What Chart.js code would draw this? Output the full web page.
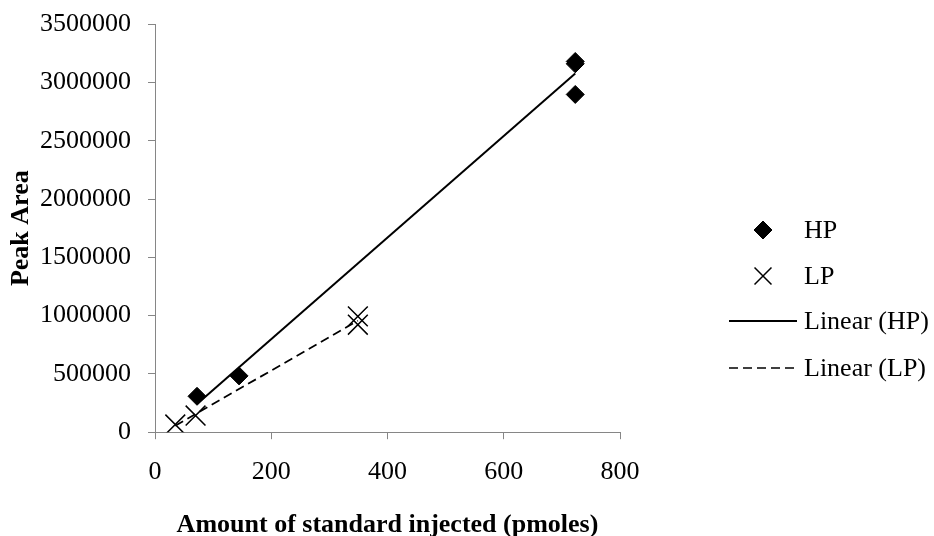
<!DOCTYPE html>
<html>
<head>
<meta charset="utf-8">
<script src="https://cdn.jsdelivr.net/npm/chart.js@4/dist/chart.umd.min.js"></script>
<style>
  html, body { margin: 0; padding: 0; background: #ffffff; }
  #wrap { width: 934px; height: 536px; }
</style>
</head>
<body>
<div id="wrap"><canvas id="c" width="934" height="536"></canvas></div>
<script>
// Calibration standards: amount injected (pmoles) vs. peak area
const hpAmount = [72.3, 144.6, 723, 723, 723];
const hpArea   = [308000, 483000, 3180000, 3160000, 2897000];
const lpAmount = [34.9, 69.8, 349, 349];
const lpArea   = [66000, 143000, 993000, 922000];

const xTicks = [0, 200, 400, 600, 800];
const yTicks = [0, 500000, 1000000, 1500000, 2000000, 2500000, 3000000, 3500000];

const legendLabels = ['HP', 'LP', 'Linear (HP)', 'Linear (LP)'];

const SERIF = '"Liberation Serif", "Times New Roman", serif';
const AXIS_GREY = '#868686';
const TREND_DASH = [9, 5];

function toPoints(xs, ys) {
  return xs.map((x, i) => ({ x: x, y: ys[i] }));
}

// least-squares straight line across the range of a series
function linearFit(xs, ys) {
  const n = xs.length;
  const mx = xs.reduce((a, b) => a + b, 0) / n;
  const my = ys.reduce((a, b) => a + b, 0) / n;
  let sxy = 0, sxx = 0;
  for (let i = 0; i < n; i++) {
    sxy += (xs[i] - mx) * (ys[i] - my);
    sxx += (xs[i] - mx) * (xs[i] - mx);
  }
  const slope = sxy / sxx;
  const icpt = my - slope * mx;
  const x0 = Math.min(...xs), x1 = Math.max(...xs);
  return [{ x: x0, y: icpt + slope * x0 }, { x: x1, y: icpt + slope * x1 }];
}

// legend drawn in the right-hand margin, beside the plot
const sideLegend = {
  id: 'sideLegend',
  afterDraw(chart) {
    const ctx = chart.ctx;
    const area = chart.chartArea;
    const cx = area.right + 143;
    const tx = area.right + 184;
    const rows = [230, 276, 321, 368];
    ctx.save();
    ctx.font = '26px ' + SERIF;
    ctx.textBaseline = 'middle';
    legendLabels.forEach((label, i) => {
      const y = rows[i];
      ctx.strokeStyle = '#000';
      ctx.fillStyle = '#000';
      if (i === 0) {
        ctx.lineWidth = 1;
        Chart.helpers.drawPoint(ctx, { pointStyle: 'rectRot', radius: 9, borderWidth: 1, rotation: 0 }, cx, y);
      } else if (i === 1) {
        ctx.lineWidth = 1.5;
        Chart.helpers.drawPoint(ctx, { pointStyle: 'crossRot', radius: 12, borderWidth: 1.5, rotation: 0 }, cx, y);
      } else {
        ctx.lineWidth = i === 3 ? 1.5 : 2;
        ctx.setLineDash(i === 3 ? TREND_DASH : []);
        ctx.beginPath();
        ctx.moveTo(cx - 34, y);
        ctx.lineTo(cx + 34, y);
        ctx.stroke();
        ctx.setLineDash([]);
      }
      ctx.fillStyle = '#000';
      ctx.fillText(label, tx, y + 1);
    });
    ctx.restore();
  }
};

new Chart(document.getElementById('c'), {
  type: 'scatter',
  data: {
    datasets: [
      {
        label: legendLabels[0],
        data: toPoints(hpAmount, hpArea),
        pointStyle: 'rectRot',
        pointRadius: 9,
        pointBorderWidth: 1,
        backgroundColor: '#000',
        borderColor: '#000',
        order: 1
      },
      {
        label: legendLabels[1],
        data: toPoints(lpAmount, lpArea),
        pointStyle: 'crossRot',
        pointRadius: 14,
        pointBorderWidth: 1.5,
        backgroundColor: '#000',
        borderColor: '#000',
        order: 2
      },
      {
        type: 'line',
        label: legendLabels[2],
        data: linearFit(hpAmount, hpArea),
        borderColor: '#000',
        borderWidth: 2,
        pointRadius: 0,
        fill: false,
        order: 3
      },
      {
        type: 'line',
        label: legendLabels[3],
        data: linearFit(lpAmount, lpArea),
        borderColor: '#000',
        borderWidth: 1.75,
        borderDash: TREND_DASH,
        pointRadius: 0,
        fill: false,
        order: 4
      }
    ]
  },
  options: {
    responsive: false,
    animation: false,
    devicePixelRatio: 1,
    layout: { padding: { left: 8, right: 314, top: 3, bottom: 0 } },
    plugins: {
      legend: { display: false },
      tooltip: { enabled: false }
    },
    scales: {
      x: {
        type: 'linear',
        min: xTicks[0],
        max: xTicks[xTicks.length - 1],
        afterBuildTicks: (axis) => { axis.ticks = xTicks.map(v => ({ value: v })); },
        ticks: {
          color: '#000',
          font: { family: SERIF, size: 26, lineHeight: 1 },
          padding: 20,
          maxRotation: 0,
          callback: (v) => String(v)
        },
        grid: { drawOnChartArea: false, drawTicks: true, tickLength: 7, color: AXIS_GREY, lineWidth: 1 },
        border: { color: AXIS_GREY, width: 1 },
        title: {
          display: true,
          text: 'Amount of standard injected (pmoles)',
          color: '#000',
          font: { family: SERIF, size: 26, weight: 'bold', lineHeight: 0.8 },
          padding: { top: 10, bottom: 0 }
        }
      },
      y: {
        type: 'linear',
        min: yTicks[0],
        max: yTicks[yTicks.length - 1],
        afterBuildTicks: (axis) => { axis.ticks = yTicks.map(v => ({ value: v })); },
        ticks: {
          color: '#000',
          font: { family: SERIF, size: 26, lineHeight: 0.55 },
          padding: 17,
          callback: (v) => String(v)
        },
        grid: { drawOnChartArea: false, drawTicks: true, tickLength: 7, color: AXIS_GREY, lineWidth: 1 },
        border: { color: AXIS_GREY, width: 1 },
        title: {
          display: true,
          text: 'Peak Area',
          color: '#000',
          font: { family: SERIF, size: 26, weight: 'bold', lineHeight: 1 },
          padding: { top: 0, bottom: -11 }
        }
      }
    }
  },
  plugins: [sideLegend]
});
</script>
</body>
</html>
